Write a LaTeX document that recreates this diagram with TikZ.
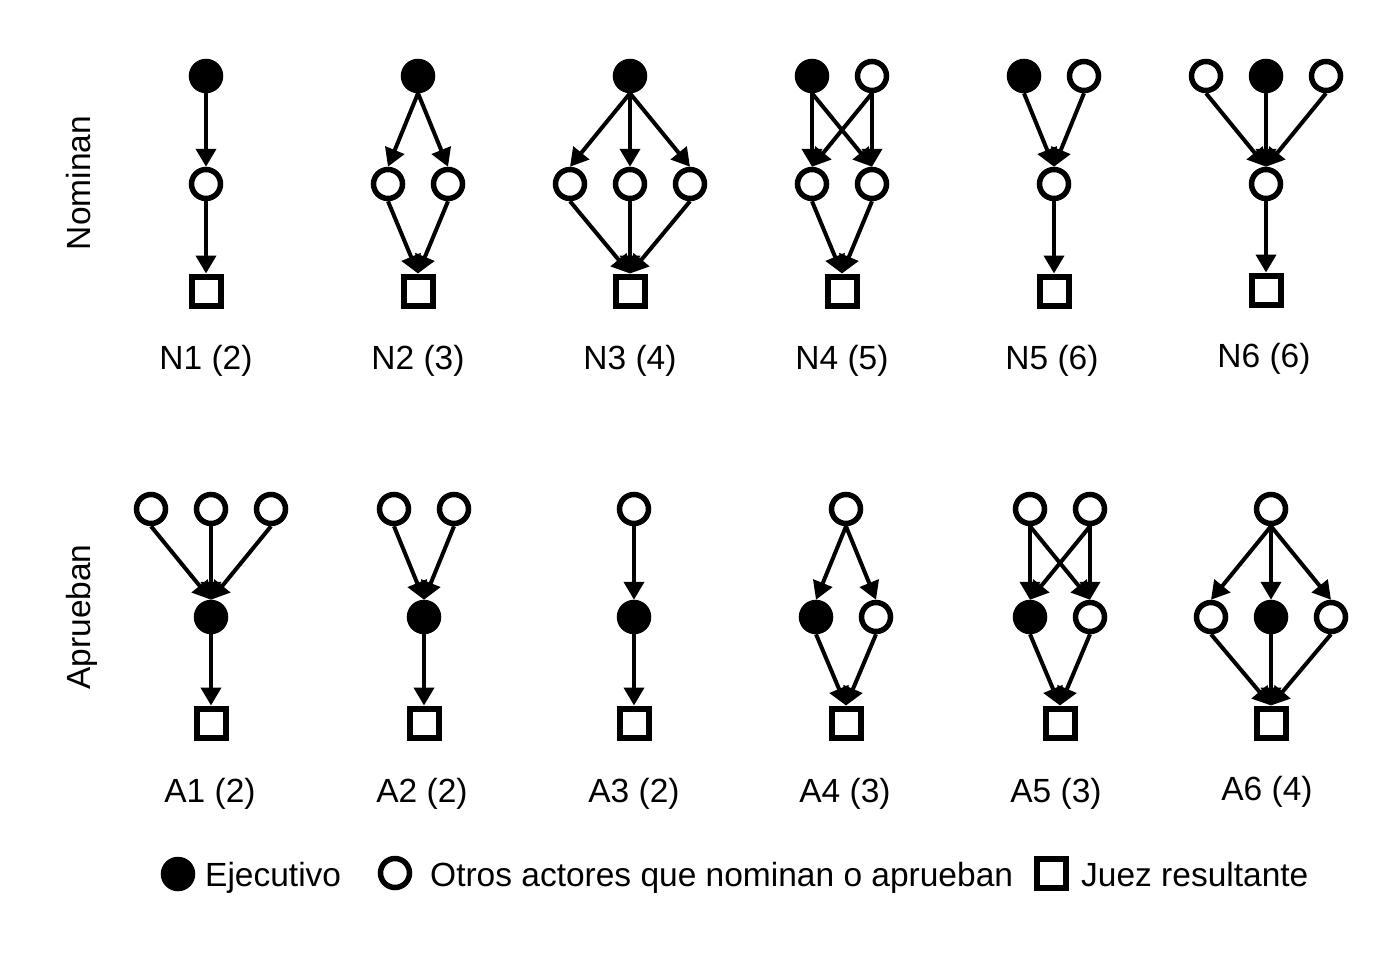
\documentclass[tikz,border=0pt]{standalone}
\usepackage{fontspec}
\setmainfont{Liberation Sans}
\usetikzlibrary{arrows.meta}
\tikzset{
  ex/.style={circle,draw=black,fill=black,line width=5.5pt,minimum size=29pt,inner sep=0pt},
  ot/.style={circle,draw=black,fill=white,line width=5.5pt,minimum size=29pt,inner sep=0pt},
  jz/.style={rectangle,draw=black,fill=white,line width=6pt,minimum size=29pt,inner sep=0pt},
  arr/.style={line width=4pt,-{Triangle[width=20pt,length=18pt]}},
  lbl/.style={font=\fontsize{33.5}{40}\selectfont,anchor=base,inner sep=0pt},
  leg/.style={font=\fontsize{33.5}{40}\selectfont,anchor=base west,inner sep=0pt},
}
\begin{document}
\begin{tikzpicture}[x=1pt,y=-1pt]
\useasboundingbox (0,0) rectangle (1384,962);
\fill[white] (0,0) rectangle (1384,962);

% row labels
\node[lbl,rotate=90] (rowN) at (90,183) {Nominan};
\node[lbl,rotate=90] (rowA) at (90,617) {Aprueban};

% ---------- N1
\node[ex] (n1a) at (206,76) {};
\node[ot] (n1b) at (206,184) {};
\node[jz] (n1d) at (206,291) {};
\draw[arr] (n1a.south) -- (n1b.north);
\draw[arr] (n1b.south) -- (n1d.north);
\node[lbl] (n1l) at (206,369) {N1 (2)};

% ---------- N2
\node[ex] (n2a) at (418,76) {};
\node[ot] (n2b) at (388,184) {};
\node[ot] (n2c) at (448,184) {};
\node[jz] (n2d) at (418,291) {};
\draw[arr] (n2a.south) -- (n2b.north);
\draw[arr] (n2a.south) -- (n2c.north);
\draw[arr] (n2b.south) -- (n2d.north);
\draw[arr] (n2c.south) -- (n2d.north);
\node[lbl] (n2l) at (418,369) {N2 (3)};

% ---------- N3
\node[ex] (n3a) at (630,76) {};
\node[ot] (n3b) at (570,184) {};
\node[ot] (n3c) at (630,184) {};
\node[ot] (n3e) at (690,184) {};
\node[jz] (n3d) at (630,291) {};
\draw[arr] (n3a.south) -- (n3b.north);
\draw[arr] (n3a.south) -- (n3c.north);
\draw[arr] (n3a.south) -- (n3e.north);
\draw[arr] (n3b.south) -- (n3d.north);
\draw[arr] (n3c.south) -- (n3d.north);
\draw[arr] (n3e.south) -- (n3d.north);
\node[lbl] (n3l) at (630,369) {N3 (4)};

% ---------- N4
\node[ex] (n4a) at (812,76) {};
\node[ot] (n4f) at (872,76) {};
\node[ot] (n4b) at (812,184) {};
\node[ot] (n4c) at (872,184) {};
\node[jz] (n4d) at (842,291) {};
\draw[arr] (n4a.south) -- (n4b.north);
\draw[arr] (n4a.south) -- (n4c.north);
\draw[arr] (n4f.south) -- (n4b.north);
\draw[arr] (n4f.south) -- (n4c.north);
\draw[arr] (n4b.south) -- (n4d.north);
\draw[arr] (n4c.south) -- (n4d.north);
\node[lbl] (n4l) at (842,369) {N4 (5)};

% ---------- N5
\node[ex] (n5a) at (1024,76) {};
\node[ot] (n5f) at (1084,76) {};
\node[ot] (n5b) at (1054,184) {};
\node[jz] (n5d) at (1054,291) {};
\draw[arr] (n5a.south) -- (n5b.north);
\draw[arr] (n5f.south) -- (n5b.north);
\draw[arr] (n5b.south) -- (n5d.north);
\node[lbl] (n5l) at (1052,369) {N5 (6)};

% ---------- N6
\node[ot] (n6f) at (1206,76) {};
\node[ex] (n6a) at (1266,76) {};
\node[ot] (n6g) at (1326,76) {};
\node[ot] (n6b) at (1266,184) {};
\node[jz] (n6d) at (1266,290) {};
\draw[arr] (n6f.south) -- (n6b.north);
\draw[arr] (n6a.south) -- (n6b.north);
\draw[arr] (n6g.south) -- (n6b.north);
\draw[arr] (n6b.south) -- (n6d.north);
\node[lbl] (n6l) at (1264,367) {N6 (6)};

% ---------- A1
\node[ot] (a1t) at (151,509) {};
\node[ot] (a1u) at (211,509) {};
\node[ot] (a1v) at (271,509) {};
\node[ex] (a1m) at (211,617) {};
\node[jz] (a1s) at (211,723) {};
\draw[arr] (a1t.south) -- (a1m.north);
\draw[arr] (a1u.south) -- (a1m.north);
\draw[arr] (a1v.south) -- (a1m.north);
\draw[arr] (a1m.south) -- (a1s.north);
\node[lbl] (a1l) at (210,802) {A1 (2)};

% ---------- A2
\node[ot] (a2t) at (394,509) {};
\node[ot] (a2u) at (454,509) {};
\node[ex] (a2m) at (424,617) {};
\node[jz] (a2s) at (424,723) {};
\draw[arr] (a2t.south) -- (a2m.north);
\draw[arr] (a2u.south) -- (a2m.north);
\draw[arr] (a2m.south) -- (a2s.north);
\node[lbl] (a2l) at (422,802) {A2 (2)};

% ---------- A3
\node[ot] (a3t) at (634,509) {};
\node[ex] (a3m) at (634,617) {};
\node[jz] (a3s) at (634,723) {};
\draw[arr] (a3t.south) -- (a3m.north);
\draw[arr] (a3m.south) -- (a3s.north);
\node[lbl] (a3l) at (634,802) {A3 (2)};

% ---------- A4
\node[ot] (a4t) at (846,509) {};
\node[ex] (a4m) at (816,617) {};
\node[ot] (a4n) at (876,617) {};
\node[jz] (a4s) at (846,723) {};
\draw[arr] (a4t.south) -- (a4m.north);
\draw[arr] (a4t.south) -- (a4n.north);
\draw[arr] (a4m.south) -- (a4s.north);
\draw[arr] (a4n.south) -- (a4s.north);
\node[lbl] (a4l) at (845,802) {A4 (3)};

% ---------- A5
\node[ot] (a5t) at (1030,509) {};
\node[ot] (a5u) at (1090,509) {};
\node[ex] (a5m) at (1030,617) {};
\node[ot] (a5n) at (1090,617) {};
\node[jz] (a5s) at (1060,723) {};
\draw[arr] (a5t.south) -- (a5m.north);
\draw[arr] (a5t.south) -- (a5n.north);
\draw[arr] (a5u.south) -- (a5m.north);
\draw[arr] (a5u.south) -- (a5n.north);
\draw[arr] (a5m.south) -- (a5s.north);
\draw[arr] (a5n.south) -- (a5s.north);
\node[lbl] (a5l) at (1056,802) {A5 (3)};

% ---------- A6
\node[ot] (a6t) at (1271,509) {};
\node[ot] (a6m) at (1211,617) {};
\node[ex] (a6n) at (1271,617) {};
\node[ot] (a6o) at (1331,617) {};
\node[jz] (a6s) at (1271,723) {};
\draw[arr] (a6t.south) -- (a6m.north);
\draw[arr] (a6t.south) -- (a6n.north);
\draw[arr] (a6t.south) -- (a6o.north);
\draw[arr] (a6m.south) -- (a6s.north);
\draw[arr] (a6n.south) -- (a6s.north);
\draw[arr] (a6o.south) -- (a6s.north);
\node[lbl] (a6l) at (1267,800) {A6 (4)};

% ---------- legend
\node[ex] (lg1) at (178,874) {};
\node[leg] (lt1) at (205,886) {Ejecutivo};
\node[ot] (lg2) at (395,873) {};
\node[leg] (lt2) at (430,886) {Otros actores que nominan o aprueban};
\node[jz] (lg3) at (1051,873) {};
\node[leg] (lt3) at (1081,886) {Juez resultante};
\end{tikzpicture}
\end{document}
